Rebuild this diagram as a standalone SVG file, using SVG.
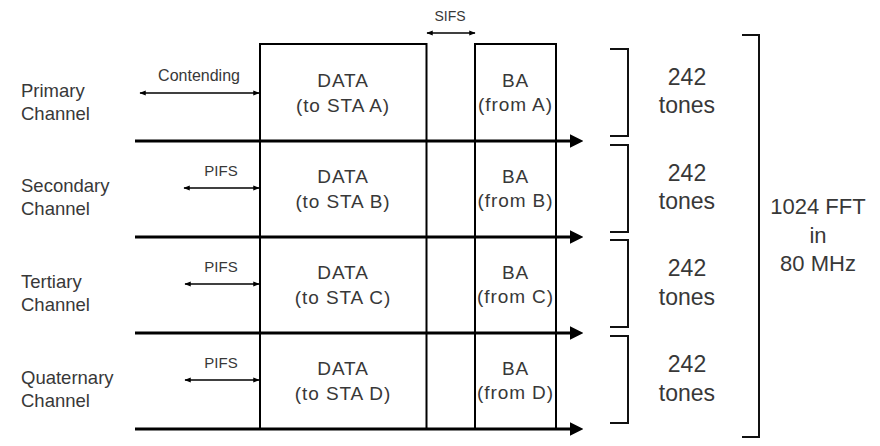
<svg xmlns="http://www.w3.org/2000/svg" width="880" height="446" viewBox="0 0 880 446">
<style>
text{font-family:"Liberation Sans",Arial,sans-serif;fill:#383838}
.lbl{font-size:18.5px}
.box{font-size:19px;text-anchor:middle;letter-spacing:0.9px}
.tn{font-size:23px;text-anchor:middle}
.fft{font-size:22px;text-anchor:middle}
.sm{font-size:15px;text-anchor:middle}
.tl{stroke:#000;stroke-width:3.2;fill:none}
.vl{stroke:#000;stroke-width:2;fill:none}
.da{stroke:#000;stroke-width:1.6;fill:none}
.br{stroke:#111;stroke-width:2;fill:none}
</style>
<defs>
<marker id="big" viewBox="0 0 10 10" refX="0" refY="5" markerWidth="4.2" markerHeight="4.2" orient="auto" markerUnits="strokeWidth">
<path d="M0,0 L10,5 L0,10 z" fill="#000"/>
</marker>
<marker id="sm" viewBox="0 0 10 10" refX="9" refY="5" markerWidth="4" markerHeight="4" orient="auto-start-reverse" markerUnits="strokeWidth">
<path d="M0,1 L10,5 L0,9 z" fill="#000"/>
</marker>
</defs>
<rect width="880" height="446" fill="#fff"/>

<g id="labels">
<g id="primary"><text class="lbl" x="21" y="97">Primary</text><text class="lbl" x="21" y="120">Channel</text></g>
<g id="secondary"><text class="lbl" x="21" y="192">Secondary</text><text class="lbl" x="21" y="215">Channel</text></g>
<g id="tertiary"><text class="lbl" x="21" y="288">Tertiary</text><text class="lbl" x="21" y="311">Channel</text></g>
<g id="quaternary"><text class="lbl" x="21" y="384">Quaternary</text><text class="lbl" x="21" y="407">Channel</text></g>
</g>

<g id="frames">
<path class="vl" d="M260,428 V44 H426.5 V428 M475,428 V44 H556 V428"/>
<g id="data-a"><text class="box" x="343" y="87">DATA</text><text class="box" x="343" y="112">(to STA A)</text></g>
<g id="data-b"><text class="box" x="343" y="183">DATA</text><text class="box" x="343" y="208">(to STA B)</text></g>
<g id="data-c"><text class="box" x="343" y="279">DATA</text><text class="box" x="343" y="304">(to STA C)</text></g>
<g id="data-d"><text class="box" x="343" y="375">DATA</text><text class="box" x="343" y="400">(to STA D)</text></g>
<g id="ba-a"><text class="box" x="515.5" y="87">BA</text><text class="box" x="515.5" y="111">(from A)</text></g>
<g id="ba-b"><text class="box" x="515.5" y="183">BA</text><text class="box" x="515.5" y="207">(from B)</text></g>
<g id="ba-c"><text class="box" x="515.5" y="279">BA</text><text class="box" x="515.5" y="303">(from C)</text></g>
<g id="ba-d"><text class="box" x="515.5" y="375">BA</text><text class="box" x="515.5" y="399">(from D)</text></g>
</g>

<g id="connectors">
<path class="tl" d="M135,141 H570" marker-end="url(#big)"/>
<path class="tl" d="M135,237 H570" marker-end="url(#big)"/>
<path class="tl" d="M135,333 H570" marker-end="url(#big)"/>
<path class="tl" d="M135,429 H570" marker-end="url(#big)"/>
<path class="da" d="M140,93 H259" marker-start="url(#sm)" marker-end="url(#sm)"/>
<path class="da" d="M184,188 H259" marker-start="url(#sm)" marker-end="url(#sm)"/>
<path class="da" d="M185,284 H259" marker-start="url(#sm)" marker-end="url(#sm)"/>
<path class="da" d="M185,380 H259" marker-start="url(#sm)" marker-end="url(#sm)"/>
<path class="da" d="M427,33 H475" marker-start="url(#sm)" marker-end="url(#sm)"/>
</g>

<g id="timing-labels">
<text class="sm" x="199" y="81" style="font-size:16px">Contending</text>
<text class="sm" x="221" y="176">PIFS</text>
<text class="sm" x="221" y="272">PIFS</text>
<text class="sm" x="221" y="368">PIFS</text>
<text class="sm" x="450" y="21" style="font-size:14px">SIFS</text>
</g>

<g id="tones">
<g id="tones-1"><path class="br" d="M610,49 H628 V136 H610"/><text class="tn" x="687" y="85">242</text><text class="tn" x="687" y="113">tones</text></g>
<g id="tones-2"><path class="br" d="M610,145 H628 V232 H610"/><text class="tn" x="687" y="181">242</text><text class="tn" x="687" y="209">tones</text></g>
<g id="tones-3"><path class="br" d="M610,240 H628 V327 H610"/><text class="tn" x="687" y="276">242</text><text class="tn" x="687" y="305">tones</text></g>
<g id="tones-4"><path class="br" d="M610,336 H628 V423 H610"/><text class="tn" x="687" y="372">242</text><text class="tn" x="687" y="401">tones</text></g>
</g>

<g id="fft">
<path class="br" d="M742,35 H759 V437 H742"/>
<text class="fft" x="818" y="214">1024 FFT</text>
<text class="fft" x="818" y="243">in</text>
<text class="fft" x="818" y="271">80 MHz</text>
</g>
</svg>
